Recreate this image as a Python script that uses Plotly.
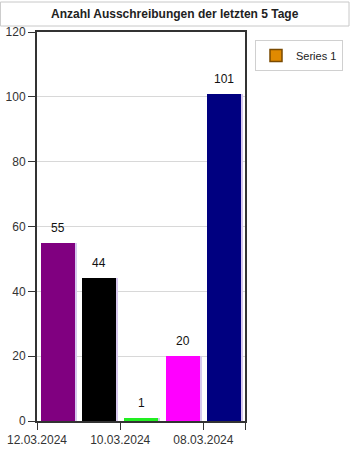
import plotly.graph_objects as go

categories = ["12.03.2024", "11.03.2024", "10.03.2024", "09.03.2024", "08.03.2024"]
values = [55, 44, 1, 20, 101]
bar_colors = ["#800080", "#000000", "#22ee22", "#ff00ff", "#000080"]
tick_labels = ["12.03.2024", "10.03.2024", "08.03.2024", ""]
tick_positions = [0, 2, 4, 5]
y_ticks = [0, 20, 40, 60, 80, 100, 120]

xs = [i for i in range(len(categories))]
W = 0.82

fig = go.Figure()
# shadow
fig.add_trace(go.Bar(x=xs, y=values, width=W, offset=-W / 2 + 0.5 + 0.045,
                     marker=dict(color="#d6c8ee", line=dict(width=0)),
                     showlegend=False, hoverinfo="skip"))
fig.add_trace(go.Bar(x=xs, y=values, width=W, offset=-W / 2 + 0.5,
                     marker=dict(color=bar_colors, line=dict(width=0)),
                     showlegend=False, customdata=categories))
# legend entry
fig.add_trace(go.Bar(x=[None], y=[None], name="Series 1",
                     marker=dict(color="#e08a00", line=dict(color="#7a4a00", width=1.5))))

for x, v in zip(xs, values):
    fig.add_annotation(x=x + 0.5, y=v, text=str(v), showarrow=False,
                       yanchor="bottom", yshift=6,
                       font=dict(family="Liberation Sans", size=12, color="#111"))

ph = 389.0
pw = 208.0
fig.add_shape(type="rect", xref="paper", yref="paper",
              x0=-37 / pw + 0.002, x1=(349 - 37) / pw, y0=(421 - 26) / ph, y1=(421 - 2) / ph,
              line=dict(color="#c8c8c8", width=1), fillcolor="white")
fig.add_annotation(xref="paper", yref="paper", x=(175 - 37) / pw, y=(421 - 14) / ph,
                   text="<b>Anzahl Ausschreibungen der letzten 5 Tage</b>", showarrow=False,
                   xanchor="center", yanchor="middle",
                   font=dict(family="Liberation Sans", size=12, color="#222"))

fig.update_layout(
    width=350, height=450,
    margin=dict(l=37, r=105, t=32, b=29, autoexpand=False),
    paper_bgcolor="white", plot_bgcolor="white",
    barmode="overlay", bargap=0,
    font=dict(family="Liberation Sans", size=12, color="#333"),
    legend=dict(x=(255 - 37) / pw, y=(421 - 40) / ph, xanchor="left", yanchor="top",
                bordercolor="#d0d0d0", borderwidth=1, bgcolor="white",
                font=dict(family="Liberation Sans", size=11, color="#222")),
    xaxis=dict(range=[0, 5], tickvals=tick_positions, ticktext=tick_labels,
               showline=True, linecolor="#333", linewidth=2, mirror=True,
               ticks="outside", ticklen=7, tickcolor="#333", tickwidth=1,
               showgrid=False, zeroline=False, automargin=False,
               tickfont=dict(family="Liberation Sans", size=12, color="#333")),
    yaxis=dict(range=[0, 120], tickvals=y_ticks,
               showline=True, linecolor="#333", linewidth=2, mirror=True,
               ticks="outside", ticklen=7, tickcolor="#333", tickwidth=1,
               showgrid=True, gridcolor="#d8d8d8", gridwidth=1, zeroline=False, automargin=False,
               tickfont=dict(family="Liberation Sans", size=12, color="#333")),
)

fig.write_html("out.html")
